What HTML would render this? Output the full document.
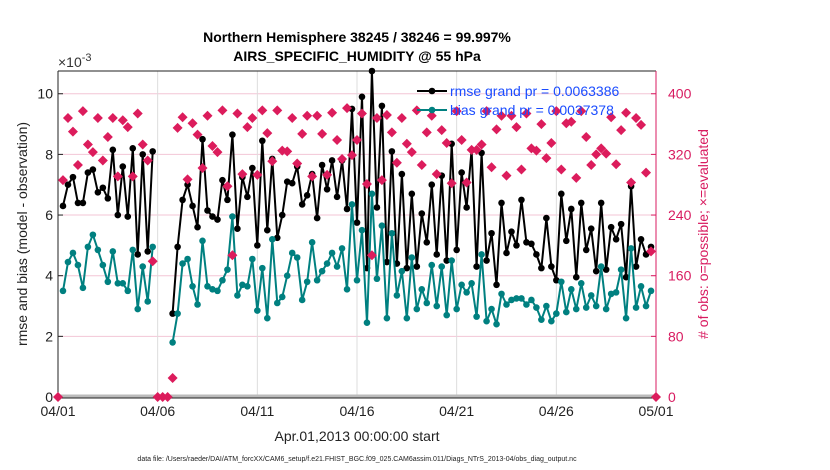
<!DOCTYPE html>
<html><head><meta charset="utf-8"><style>
body{margin:0;background:#fff;}
svg{display:block;font-family:"Liberation Sans",Arial,sans-serif;}
</style></head><body>
<svg id="chart" width="830" height="470" viewBox="0 0 830 470">
<text x="357" y="42" text-anchor="middle" font-size="14" font-weight="bold">Northern Hemisphere 38245 / 38246 = 99.997%</text>
<text x="357" y="61" text-anchor="middle" font-size="14" font-weight="bold">AIRS_SPECIFIC_HUMIDITY @ 55 hPa</text>
<text x="58" y="67" font-size="14" fill="#333">×10<tspan dy="-6" font-size="11">-3</tspan></text>
<g id="grid"></g>
<g id="axes"></g>
<g id="marks"></g>
<g id="legend">
<line x1="417" y1="91" x2="447" y2="91" stroke="#000" stroke-width="2"/>
<circle cx="432" cy="91" r="3.3" fill="#000"/>
<text x="450" y="96" font-size="14" fill="#1a4cff">rmse grand pr = 0.0063386</text>
<line x1="417" y1="110" x2="447" y2="110" stroke="#008080" stroke-width="2"/>
<circle cx="432" cy="110" r="3.3" fill="#008080"/>
<text x="450" y="115" font-size="14" fill="#1a4cff">bias grand pr = 0.0037378</text>
</g>
<text transform="translate(27,234) rotate(-90)" text-anchor="middle" font-size="14" fill="#222">rmse and bias (model - observation)</text>
<text transform="translate(708,234) rotate(-90)" text-anchor="middle" font-size="14" fill="#d81b60"># of obs: o=possible; ×=evaluated</text>
<text x="357" y="441" text-anchor="middle" font-size="14" fill="#222">Apr.01,2013 00:00:00 start</text>
<text x="357" y="461" text-anchor="middle" font-size="7" fill="#222">data file: /Users/raeder/DAI/ATM_forcXX/CAM6_setup/f.e21.FHIST_BGC.f09_025.CAM6assim.011/Diags_NTrS_2013-04/obs_diag_output.nc</text>
</svg>
<script>
const rmse=[null,6.3,7.0,7.25,6.4,6.4,7.4,7.5,6.75,6.9,6.55,8.15,6.0,7.6,5.95,8.2,4.7,8.0,4.8,8.1,
null,null,null,2.75,4.95,6.5,7.0,6.3,5.6,8.5,6.15,5.95,5.85,7.15,6.5,8.65,5.55,7.25,6.6,7.55,
5.0,8.45,5.5,7.85,5.25,6.0,7.1,7.05,7.6,6.35,6.65,7.35,5.9,7.65,6.85,7.8,6.6,7.8,6.2,9.5,
5.75,9.9,4.25,10.75,6.25,9.6,4.45,8.1,4.4,7.35,4.25,6.7,4.3,6.05,5.1,7.0,4.7,7.3,4.5,8.35,
4.85,7.4,6.25,8.15,4.3,8.05,4.5,5.4,3.7,6.4,4.75,5.45,5.0,6.5,5.1,5.05,4.7,4.25,5.9,4.3,
3.85,6.7,5.15,6.2,3.95,6.4,4.85,5.55,4.15,6.4,4.2,5.6,5.2,5.7,3.95,6.95,4.3,5.2,4.7,4.95,null];
const bias=[null,3.5,4.45,4.75,4.35,3.6,4.95,5.35,4.85,4.35,3.8,4.8,3.75,3.75,3.5,4.85,2.9,4.3,3.15,4.95,
null,null,null,1.8,2.75,4.4,4.55,3.65,3.05,5.15,3.65,3.55,3.5,3.85,4.2,5.95,3.35,3.7,3.65,4.55,
2.85,4.25,2.6,5.2,3.1,3.3,4.0,4.75,4.6,3.2,3.8,5.1,3.85,4.15,4.4,4.75,4.3,4.9,3.55,6.35,
3.85,5.5,2.45,6.7,3.9,5.65,2.6,5.4,3.35,4.15,2.6,4.6,2.9,3.55,3.1,4.35,3.0,4.3,2.7,4.5,
2.9,3.7,3.45,3.75,2.65,4.7,2.5,2.9,2.4,3.4,3.05,3.2,3.25,3.25,3.05,3.2,2.95,2.55,3.0,2.5,
2.75,3.8,2.8,3.55,2.9,3.75,2.95,3.35,3.0,4.3,2.9,3.4,3.45,4.2,2.6,4.9,2.95,3.65,3.0,3.5,null];
const obsUsed=[0,286,368,350,306,377,333,323,368,312,343,368,291,365,356,291,374,333,312,179,
0,0,0,25,355,369,287,361,346,302,371,331,323,378,278,187,374,294,356,368,
293,378,348,311,378,325,324,368,308,347,371,291,371,347,293,375,339,314,381,319,
339,374,281,187,368,286,372,349,309,368,334,323,378,306,349,371,294,352,335,282,
377,339,283,326,326,333,377,303,353,371,292,371,356,300,374,328,325,360,315,335,
377,300,361,363,289,377,343,306,320,328,321,369,307,352,375,283,368,359,296,192,0];
const xTickLabels=["04/01","04/06","04/11","04/16","04/21","04/26","05/01"];
const yTicks=[0,2,4,6,8,10];
const y2Ticks=[0,80,160,240,320,400];

const NS="http://www.w3.org/2000/svg";
const L=58,R=656,T=71,B=397;
const yMax=10.75, y2Max=430, nDays=30;
const xs=i=>L+(i/4)*(R-L)/nDays;
const ys=v=>B-v/yMax*(B-T);
const y2s=v=>B-v/y2Max*(B-T);
function mk(tag,attrs,parent){const e=document.createElementNS(NS,tag);for(const k in attrs)e.setAttribute(k,attrs[k]);parent.appendChild(e);return e;}
const grid=document.getElementById('grid'),axes=document.getElementById('axes'),marks=document.getElementById('marks');
mk('rect',{x:L,y:T,width:R-L,height:B-T,fill:'#fff'},grid);
yTicks.forEach(v=>{
 const g=mk('line',{x1:L,x2:R,y1:ys(v),y2:ys(v),stroke:'#f3c6d6','stroke-width':1},grid);
 
 
 mk('line',{x1:L,x2:L+5,y1:ys(v),y2:ys(v),stroke:'#222'},axes);
 const t=mk('text',{x:L-5,y:ys(v)+5,'text-anchor':'end','font-size':14,fill:'#222'},axes);
 t.textContent=v;
 
 
});
y2Ticks.forEach(v=>{
 mk('line',{x1:R-5,x2:R,y1:y2s(v),y2:y2s(v),stroke:'#d81b60'},axes);
 const t=mk('text',{x:R+12,y:y2s(v)+5,'font-size':14,fill:'#d81b60'},axes);
 t.textContent=v;
 
 
});
xTickLabels.forEach((lab,k)=>{
 const x=L+k*5*(R-L)/nDays;
 const g=mk('line',{x1:x,x2:x,y1:T,y2:B,stroke:'#ddd'},grid);
 
 
 const t=mk('text',{x:x,y:416,'text-anchor':'middle','font-size':14,fill:'#222'},axes);
 t.textContent=lab;
 
 
});
mk('line',{x1:L,x2:R,y1:B-1,y2:B-1,stroke:'#bbb','stroke-width':3},axes);
mk('line',{x1:L,x2:R,y1:T,y2:T,stroke:'#222'},axes);
mk('line',{x1:L,x2:R,y1:B+1,y2:B+1,stroke:'#222'},axes);
mk('line',{x1:L,x2:L,y1:T,y2:B+1,stroke:'#222'},axes);
mk('line',{x1:R,x2:R,y1:T,y2:B+1,stroke:'#d81b60'},axes);

function series(arr,color,name){
 let d='',pen=false;
 arr.forEach((v,i)=>{if(v==null){pen=false;return;}d+=(pen?'L':'M')+xs(i).toFixed(1)+' '+ys(v).toFixed(1);pen=true;});
 const p=mk('path',{d:d,fill:'none',stroke:color,'stroke-width':2,'stroke-linejoin':'round'},marks);
 
 
 arr.forEach((v,i)=>{if(v==null)return;
  const c=mk('circle',{cx:xs(i),cy:ys(v),r:3.3,fill:color},marks);
  
  
 });
}
series(rmse,'#000','rmse');
series(bias,'#008080','bias');
obsUsed.forEach((v,i)=>{
 const x=xs(i),y=y2s(v);
 const p=mk('path',{d:`M${x} ${y-5}L${x+5} ${y}L${x} ${y+5}L${x-5} ${y}Z`,fill:'#dc1c5c'},marks);
 
 
});
</script>
</body></html>
